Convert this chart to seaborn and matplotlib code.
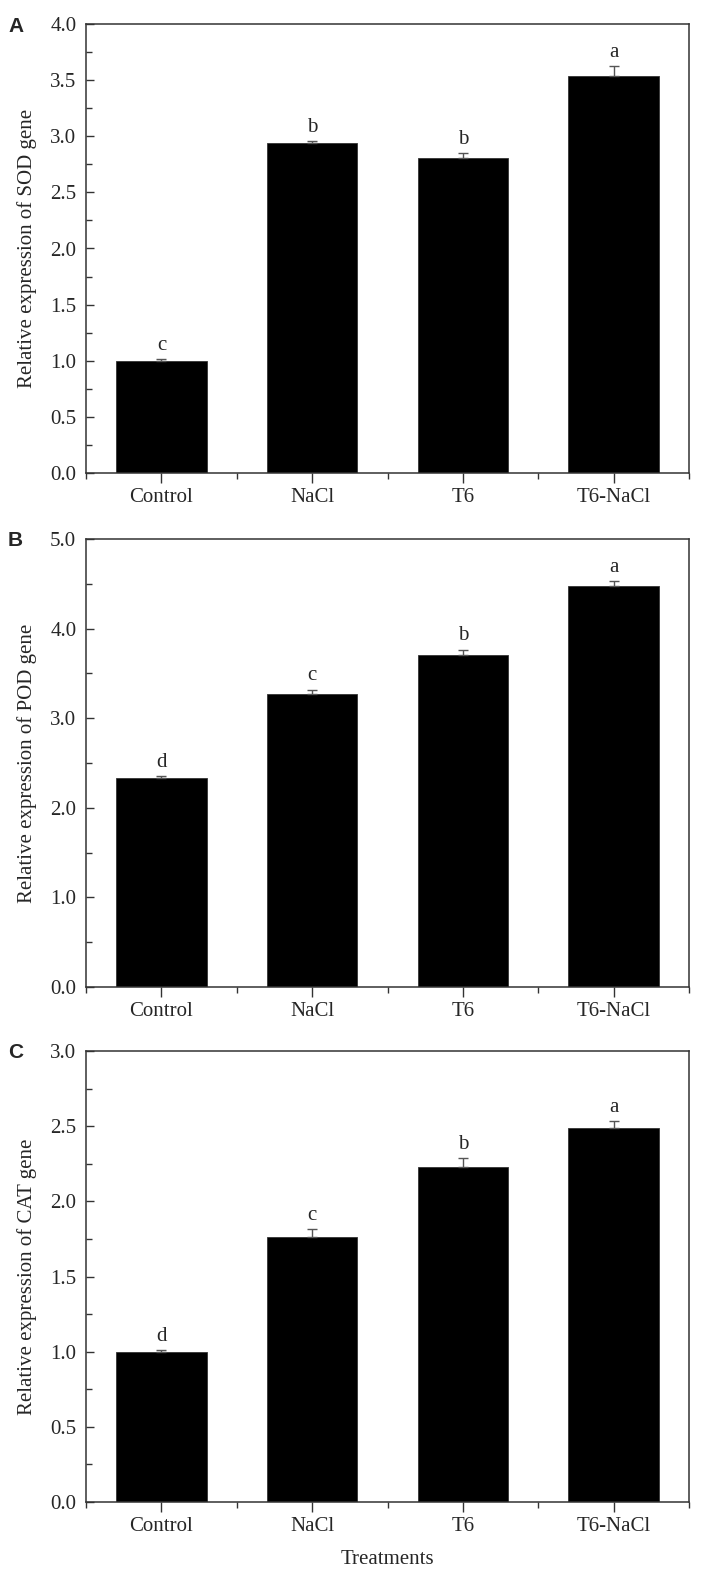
import numpy as np
import pandas as pd
import matplotlib
matplotlib.use("Agg")
import matplotlib.pyplot as plt
from matplotlib.ticker import MultipleLocator, FixedLocator
import seaborn as sns

# data
treatments = ["Control", "NaCl", "T6", "T6-NaCl"]

sod_mean = [1.00, 2.94, 2.81, 3.54]
sod_err = [0.012, 0.015, 0.04, 0.085]
sod_letters = ["c", "b", "b", "a"]

pod_mean = [2.33, 3.27, 3.71, 4.47]
pod_err = [0.02, 0.05, 0.055, 0.06]
pod_letters = ["d", "c", "b", "a"]

cat_mean = [1.00, 1.765, 2.23, 2.49]
cat_err = [0.012, 0.053, 0.06, 0.045]
cat_letters = ["d", "c", "b", "a"]

sns.set_style("white")
plt.rcParams["font.family"] = ["Liberation Serif", "DejaVu Serif"]

fig = plt.figure(figsize=(7.08, 15.83), dpi=100)

left, right = 86 / 708, 689 / 708
H = 1583
# (top px, bottom px) for each panel
panels = [
    ("A", "SOD", sod_mean, sod_err, sod_letters, 24, 473, 4.0, 0.5, 0.25),
    ("B", "POD", pod_mean, pod_err, pod_letters, 539, 987, 5.0, 1.0, 0.5),
    ("C", "CAT", cat_mean, cat_err, cat_letters, 1051, 1502, 3.0, 0.5, 0.25),
]

fs = 15
for tag, gene, means, errs, letters, top, bot, ymax, major, minor in panels:
    ax = fig.add_axes([left, 1 - bot / H, right - left, (bot - top) / H])
    df = pd.DataFrame({"Treatment": treatments, "Value": means})
    sns.barplot(data=df, x="Treatment", y="Value", color="black",
                width=0.6, errorbar=None, ax=ax, edgecolor="#333333",
                linewidth=0.6, saturation=1)
    xs = np.arange(len(treatments))
    ax.errorbar(xs, means, yerr=[np.zeros(len(errs)), errs], fmt="none",
                ecolor="#555555", elinewidth=1.0, capsize=3.5, capthick=1.0)
    for x, m, e, l in zip(xs, means, errs, letters):
        ax.annotate(l, (x, m + e), xytext=(0, 3), textcoords="offset points",
                    ha="center", va="bottom", fontsize=fs)

    ax.set_xlim(-0.5, 3.5)
    ax.set_ylim(0, ymax)
    ax.yaxis.set_major_locator(MultipleLocator(major))
    ax.yaxis.set_minor_locator(MultipleLocator(minor))
    ax.yaxis.set_major_formatter(matplotlib.ticker.FormatStrFormatter("%.1f"))
    ax.xaxis.set_minor_locator(FixedLocator([-0.5, 0.5, 1.5, 2.5, 3.5]))

    ax.tick_params(axis="x", which="major", direction="out", length=7,
                   width=1, color="#333333", labelsize=fs, pad=4, bottom=True)
    ax.tick_params(axis="x", which="minor", direction="out", length=4,
                   width=1, color="#333333", bottom=True)
    ax.tick_params(axis="y", which="major", direction="in", length=6,
                   width=1, color="#333333", labelsize=fs, pad=7, left=True)
    ax.tick_params(axis="y", which="minor", direction="in", length=4,
                   width=1, color="#333333", left=True)

    for s in ax.spines.values():
        s.set_visible(True)
        s.set_color("#333333")
        s.set_linewidth(1.1)

    ax.set_xlabel("")
    ax.set_ylabel(f"Relative expression of {gene} gene", fontsize=fs)
    ax.yaxis.set_label_coords(-0.082, 0.5)

    fig.text(8 / 708, 1 - (top + 2) / H, tag, fontsize=15, fontweight="bold",
             family="Liberation Sans", ha="left", va="center")

fig.text((left + right) / 2, 1 - 1560 / H, "Treatments", fontsize=fs,
         ha="center", va="center")

fig.savefig("out.png", dpi=100)
